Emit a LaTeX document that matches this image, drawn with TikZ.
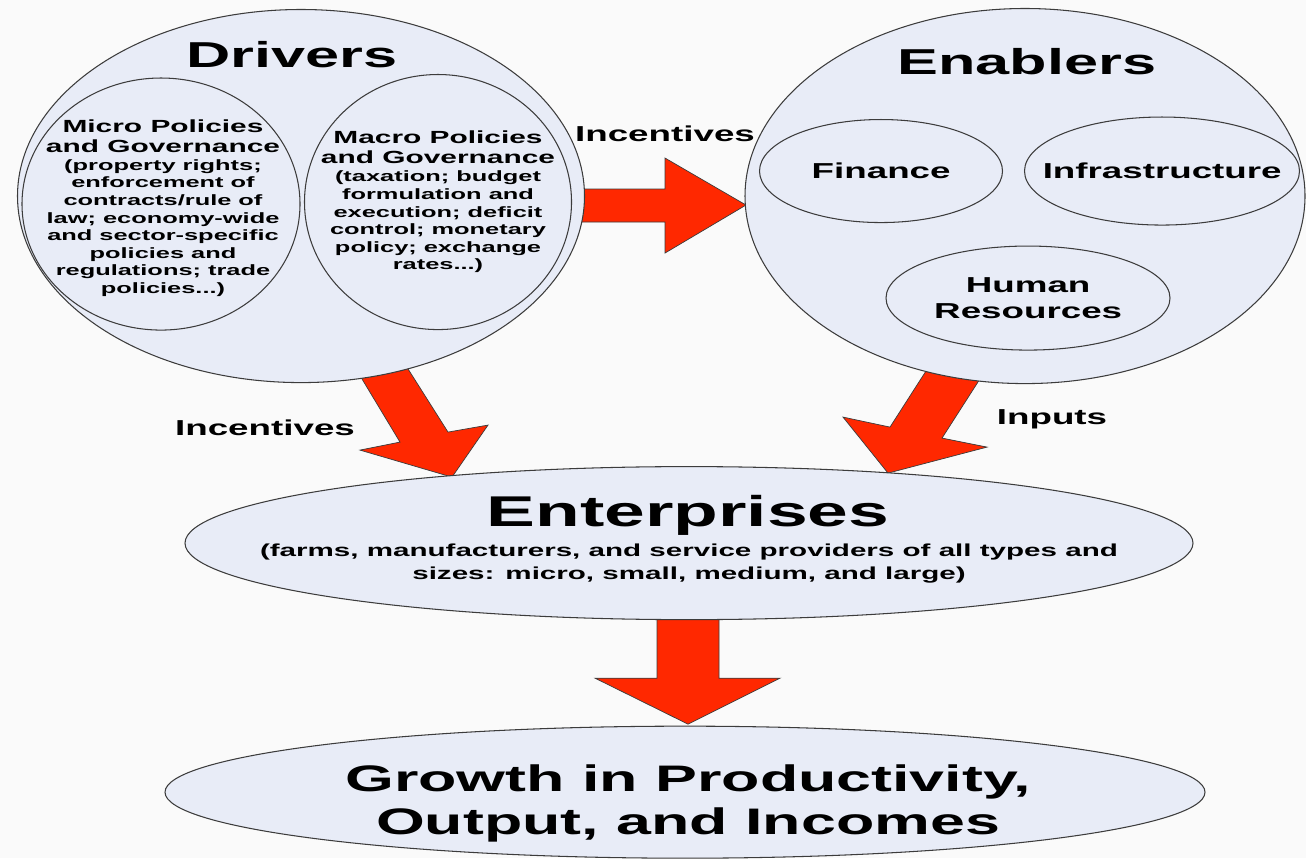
\documentclass[tikz,border=0pt]{standalone}
\usepackage{fontspec}
\setmainfont{Liberation Sans}
\usetikzlibrary{shapes.geometric}
\definecolor{bgcol}{RGB}{250,250,250}
\definecolor{bubblecol}{RGB}{232,236,247}
\definecolor{linecol}{RGB}{60,60,60}
\definecolor{arrowred}{RGB}{255,40,0}
\newcommand{\ux}{0.011765cm}
\newcommand{\uy}{0.02cm}
\tikzset{bubble/.style={ellipse, draw=linecol, fill=bubblecol, line width=0.6pt, inner sep=0pt}}
\tikzset{bigarrow/.style={draw=linecol, fill=arrowred, line width=0.4pt}}
\tikzset{ttl/.style={font=\bfseries\fontsize{20.5}{24}\selectfont}}
\tikzset{sub/.style={font=\bfseries\fontsize{10}{11.3}\selectfont, align=center}}
\tikzset{desc/.style={font=\bfseries\fontsize{8.5}{10}\selectfont, align=center}}
\tikzset{lbl/.style={font=\bfseries\fontsize{12.3}{14.7}\selectfont, align=center}}

\begin{document}
\begin{tikzpicture}[x=\ux,y=-\uy,xscale=1.7,transform shape]
      \fill[bgcol] (0,0) rectangle (1306,858);
      \useasboundingbox (0,0) rectangle (1306,858);
      % block arrows, behind the bubbles
      \draw[bigarrow] (560,189) -- (665,189) -- (665,158) -- (746,205) -- (665,253) -- (665,222) -- (560,222) -- cycle;
      \draw[bigarrow] (391,342) -- (448,432) -- (488,425) -- (452,477) -- (360,450) -- (400,442) -- (344,349) -- cycle;
      \draw[bigarrow] (942,346) -- (890,427) -- (843,417) -- (888,473) -- (987,447) -- (942,438) -- (1001,346) -- cycle;
      \draw[bigarrow] (657,600) -- (657,678) -- (595,678) -- (688,724) -- (780,678) -- (719,678) -- (719,600) -- cycle;
      % drivers
      \node[bubble, minimum width=567*\ux, minimum height=373*\uy] (drivers) at (301,196) {};
      \node[ttl] (drvtitle) at (292,55) {Drivers};
      \node[bubble, minimum width=278*\ux, minimum height=252*\uy] (micro) at (161,204) {};
      \node[bubble, minimum width=267*\ux, minimum height=255*\uy] (macro) at (438,202) {};
      \node[sub] (microttl) at (163,136) {Micro Policies\\and Governance};
      \node[desc] (microtxt) at (163,228) {(property rights;\\enforcement of\\contracts/rule of\\law; economy-wide\\and sector-specific\\policies and\\regulations; trade\\policies...)};
      \node[sub] (macrottl) at (438,147) {Macro Policies\\and Governance};
      \node[desc] (macrotxt) at (438,222) {(taxation; budget\\formulation and\\execution; deficit\\control; monetary\\policy; exchange\\rates...)};
      % enablers
      \node[bubble, minimum width=560*\ux, minimum height=375*\uy] (enablers) at (1025,196) {};
      \node[ttl] (enbtitle) at (1027,62) {Enablers};
      \node[bubble, minimum width=243*\ux, minimum height=103*\uy] (finance) at (881,171) {};
      \node[bubble, minimum width=275*\ux, minimum height=108*\uy] (infra) at (1162,171) {};
      \node[bubble, minimum width=284*\ux, minimum height=104*\uy] (human) at (1028,298) {};
      \node[lbl] (financetxt) at (finance) {Finance};
      \node[lbl] (infratxt) at (infra) {Infrastructure};
      \node[lbl] (humantxt) at (human) {Human\\Resources};
      % arrow labels
      \node[lbl] (incright) at (665,134) {Incentives};
      \node[lbl] (incdown) at (265,428) {Incentives};
      \node[lbl] (inputs) at (1052,419) {Inputs};
      % enterprises
      \node[bubble, minimum width=1008*\ux, minimum height=153*\uy] (enterprises) at (689,543) {};
      \node[font=\bfseries\fontsize{24.5}{28}\selectfont] (entttl) at (688,515) {Enterprises};
      \node[font=\bfseries\fontsize{9.9}{13}\selectfont, align=center] (enttxt) at (689,563) {(farms, manufacturers, and service providers of all types and\\sizes: micro, small, medium, and large)};
      % growth
      \node[bubble, minimum width=1040*\ux, minimum height=132*\uy] (growth) at (685,792) {};
      \node[font=\bfseries\fontsize{21}{24.4}\selectfont, align=center] (growthtxt) at (688,803) {Growth in Productivity,\\Output, and Incomes};
\end{tikzpicture}
\end{document}
